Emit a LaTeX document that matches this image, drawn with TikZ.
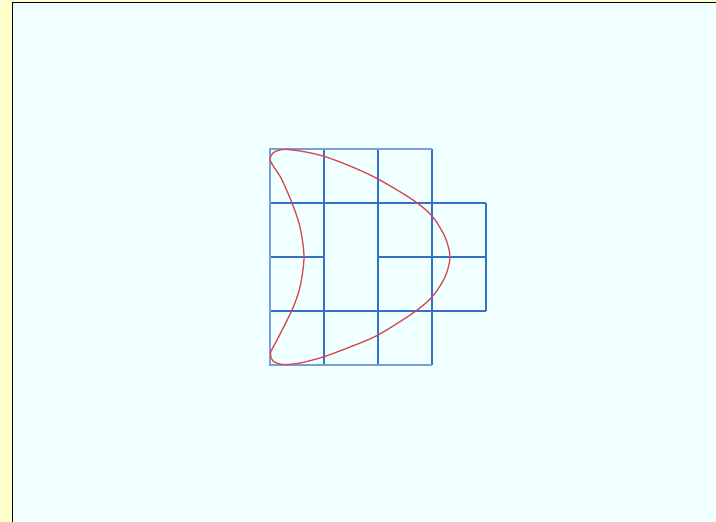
\documentclass[tikz,border=0pt]{standalone}
\usepackage{tikz}
\definecolor{paper}{HTML}{FFFFCC}
\definecolor{azure}{HTML}{F0FFFF}
\definecolor{gridblue}{HTML}{3470C6}
\definecolor{gridlight}{HTML}{7A9ED6}
\definecolor{curvered}{HTML}{D9464E}
\tikzset{
  gline/.style={draw=gridblue, line width=1.4pt},
  glight/.style={draw=gridlight, line width=1.4pt},
  crescent/.style={draw=curvered, line width=1.3pt, line join=round}
}
\begin{document}
\begin{tikzpicture}[x=1pt,y=-1pt]
\useasboundingbox (0,0) rectangle (716,522);
\fill[paper] (0,0) rectangle (716,522);
\filldraw[fill=azure, draw=black, line width=1.5pt] (12.5,2.5) rectangle (730,540);
% interior and right-hand grid lines
\draw[gline] (324,149) -- (324,365);
\draw[gline] (378,149) -- (378,365);
\draw[gline] (432,149) -- (432,365);
\draw[gline] (486,203) -- (486,311);
\draw[gline] (270,203) -- (486,203);
\draw[gline] (270,257) -- (324,257);
\draw[gline] (378,257) -- (486,257);
\draw[gline] (270,311) -- (486,311);
% outer light edges
\draw[glight] (432,149) -- (270,149) -- (270,365) -- (432,365);
% crescent curve
\draw[crescent] plot[smooth cycle, tension=0.5] coordinates {
 (283,149.5) (300,151) (323,156) (350,166) (378,179) (413,200) (432,216) (445,237) (450,257)
 (445,277) (432,297) (413,313) (378,335) (350,347) (323,357) (300,363) (283,364.5)
 (273,361) (270.5,353) (277,340) (292,310) (300,287) (304,257) (300,227) (292,203) (281,178) (270.5,161) (273,153)
};
\end{tikzpicture}
\end{document}
